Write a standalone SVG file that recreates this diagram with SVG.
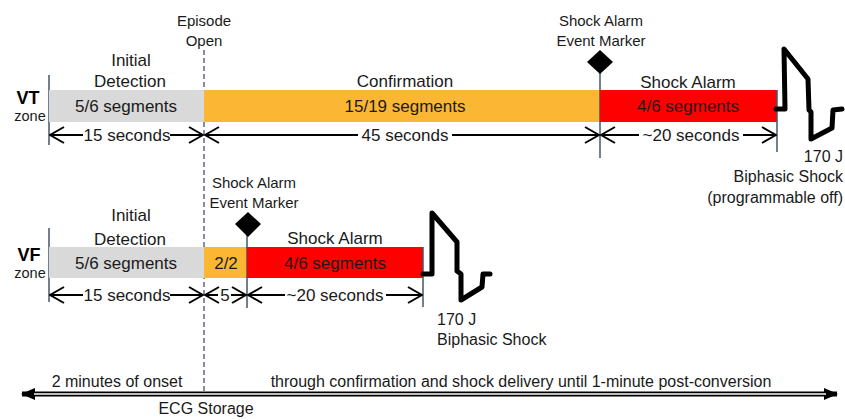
<svg xmlns="http://www.w3.org/2000/svg" width="845" height="420" viewBox="0 0 845 420">
<defs>
<marker id="chev" viewBox="0 0 16 18" refX="15" refY="9" markerWidth="16" markerHeight="18" markerUnits="userSpaceOnUse" orient="auto-start-reverse">
<path d="M1,1 L15,9 L1,17" fill="none" stroke="#000" stroke-width="2"/>
</marker>
<marker id="tri" viewBox="0 0 14 12" refX="13" refY="6" markerWidth="14" markerHeight="12" markerUnits="userSpaceOnUse" orient="auto-start-reverse">
<path d="M0,0 L14,6 L0,12 Z" fill="#000"/>
</marker>
</defs>
<style>
text{font-family:"Liberation Sans",Arial,sans-serif;fill:#1a1a1a;}
.lbl{font-size:17px;text-anchor:middle;}
.sm{font-size:15px;text-anchor:middle;}
.zone{font-size:14.5px;text-anchor:middle;}
.zn{font-size:18px;font-weight:bold;text-anchor:middle;fill:#000;}
.shock{font-size:16px;}
.bot{font-size:16px;text-anchor:middle;}
.vl{stroke:#44546a;stroke-width:1.5;fill:none;}
.dash{stroke:#44546a;stroke-width:1.3;stroke-dasharray:5,3;fill:none;}
.arr{stroke:#000;stroke-width:2;fill:none;}
.wave{stroke:#000;stroke-width:5;fill:none;stroke-linejoin:round;stroke-linecap:round;}
.gray{fill:#d9d9d9;}
.orange{fill:#fbb634;}
.red{fill:#ff0000;}
.dia{fill:#000;}
</style>

<g id="episode-open">
<line class="dash" x1="204" y1="50" x2="204" y2="391"/>
<text class="sm" x="204" y="26">Episode</text>
<text class="sm" x="204" y="46">Open</text>
</g>

<g id="vt-row">
<text class="zn" x="28" y="104">VT</text>
<text class="zone" x="30" y="121">zone</text>
<line class="vl" x1="49" y1="75" x2="49" y2="145"/>
</g>

<g id="vt-initial">
<rect class="gray" x="49" y="90" width="155" height="32"/>
<text class="lbl" x="131" y="66">Initial</text>
<text class="lbl" x="130" y="87">Detection</text>
<text class="lbl" x="126" y="112">5/6 segments</text>
</g>

<g id="vt-confirmation">
<rect class="orange" x="204" y="90" width="396" height="32"/>
<text class="lbl" x="405" y="87">Confirmation</text>
<text class="lbl" x="405" y="112">15/19 segments</text>
</g>

<g id="vt-marker">
<line class="vl" x1="600" y1="70" x2="600" y2="158"/>
<path class="dia" d="M600,50 L613,62 L600,74 L587,62 Z"/>
<text class="sm" x="601" y="26">Shock Alarm</text>
<text class="sm" x="601" y="46">Event Marker</text>
</g>

<g id="vt-shock-alarm">
<rect class="red" x="600" y="90" width="177" height="32"/>
<line class="vl" x1="777" y1="90" x2="777" y2="152"/>
<text class="lbl" x="688" y="88">Shock Alarm</text>
<text class="lbl" x="688" y="112">4/6 segments</text>
</g>

<g id="vt-shock">
<path class="wave" d="M776,109 L785,109 L784,49 L808,79 L809,110 L811,112 L811,139 L832,128 L833,110 L842,109"/>
<text class="shock" x="843" y="162" text-anchor="end">170 J</text>
<text class="shock" x="843" y="182" text-anchor="end">Biphasic Shock</text>
<text class="shock" x="843" y="203" text-anchor="end">(programmable off)</text>
</g>

<g id="vf-row">
<text class="zn" x="29" y="261">VF</text>
<text class="zone" x="30" y="278">zone</text>
<line class="vl" x1="49" y1="228" x2="49" y2="302"/>
</g>

<g id="vf-initial">
<rect class="gray" x="49" y="247" width="155" height="31"/>
<text class="lbl" x="131" y="221">Initial</text>
<text class="lbl" x="130" y="245">Detection</text>
<text class="lbl" x="126" y="269">5/6 segments</text>
</g>

<g id="vf-confirmation">
<rect class="orange" x="204" y="247" width="43" height="31"/>
<text class="lbl" x="226" y="269">2/2</text>
</g>

<g id="vf-marker">
<line class="vl" x1="247" y1="232" x2="247" y2="308"/>
<path class="dia" d="M248,212 L261,224 L248,237 L235,224 Z"/>
<text class="sm" x="254" y="188">Shock Alarm</text>
<text class="sm" x="254" y="208">Event Marker</text>
</g>

<g id="vf-shock-alarm">
<rect class="red" x="247" y="247" width="176" height="31"/>
<line class="vl" x1="423" y1="247" x2="423" y2="307"/>
<text class="lbl" x="335" y="244">Shock Alarm</text>
<text class="lbl" x="335" y="269">4/6 segments</text>
</g>

<g id="vf-shock">
<path class="wave" d="M423,274 L432,274 L432,213 L457,242 L457,271 L461,274 L461,300 L482,287 L483,274 L490,274"/>
<text class="shock" x="437" y="325">170 J</text>
<text class="shock" x="437" y="345">Biphasic Shock</text>
</g>

<g id="connectors">
<line class="arr" x1="50" y1="135" x2="83" y2="135" marker-start="url(#chev)"/>
<line class="arr" x1="170" y1="135" x2="203" y2="135" marker-end="url(#chev)"/>
<line class="arr" x1="205" y1="135" x2="358" y2="135" marker-start="url(#chev)"/>
<line class="arr" x1="452" y1="135" x2="599" y2="135" marker-end="url(#chev)"/>
<line class="arr" x1="601" y1="135" x2="639" y2="135" marker-start="url(#chev)"/>
<line class="arr" x1="743" y1="135" x2="776" y2="135" marker-end="url(#chev)"/>
<line class="arr" x1="50" y1="295" x2="83" y2="295" marker-start="url(#chev)"/>
<line class="arr" x1="170" y1="295" x2="203" y2="295" marker-end="url(#chev)"/>
<line class="arr" x1="205" y1="295" x2="218" y2="295" marker-start="url(#chev)"/>
<line class="arr" x1="231" y1="295" x2="246" y2="295" marker-end="url(#chev)"/>
<line class="arr" x1="248" y1="295" x2="285" y2="295" marker-start="url(#chev)"/>
<line class="arr" x1="386" y1="295" x2="422" y2="295" marker-end="url(#chev)"/>
<line x1="22" y1="394" x2="837" y2="394" stroke="#000" stroke-width="5" marker-start="url(#tri)" marker-end="url(#tri)"/>
<line x1="34" y1="394" x2="826" y2="394" stroke="#fff" stroke-width="1.7"/>
</g>

<g id="duration-labels">
<text class="lbl" x="127" y="141">15 seconds</text>
<text class="lbl" x="405" y="141">45 seconds</text>
<text class="lbl" x="691" y="141">~20 seconds</text>
<text class="lbl" x="127" y="301">15 seconds</text>
<text class="lbl" x="225" y="301">5</text>
<text class="lbl" x="335" y="301">~20 seconds</text>
</g>

<g id="ecg-storage">
<text class="bot" x="117" y="387">2 minutes of onset</text>
<text class="bot" x="521" y="387">through confirmation and shock delivery until 1-minute post-conversion</text>
<text class="bot" x="206" y="414">ECG Storage</text>
</g>
</svg>
